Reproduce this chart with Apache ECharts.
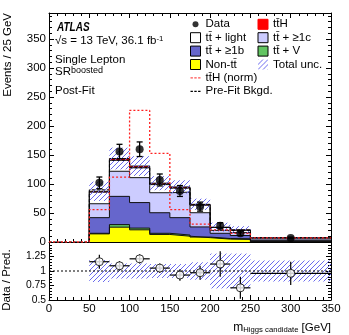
<!DOCTYPE html>
<html>
<head>
<meta charset="utf-8">
<script src="https://cdn.jsdelivr.net/npm/echarts@6/dist/echarts.min.js"></script>
<style>
html, body { margin: 0; padding: 0; background: #fff; }
#main { width: 349px; height: 335px; }
</style>
</head>
<body>
<div id="main"></div>
<script>
// bin edges in GeV (25 GeV bins, last one is 100 GeV wide)
var binLo = [50, 75, 100, 125, 150, 175, 200, 225, 250];
var binHi = [75, 100, 125, 150, 175, 200, 225, 250, 350];

// post-fit yields, events / 25 GeV, bottom of the stack first
var nonTt   = [14, 25.6, 21, 13, 10, 7.5, 5, 4.5, 0.5];
var ttV     = [1, 4.4, 3, 2, 2, 1, 1, 1, 0.3];
var tt1b    = [27, 48.7, 44, 35.5, 30, 17.5, 9, 5.7, 2];
var tt1c    = [24, 43.3, 43, 34.5, 44, 24.5, 5, 5, 2.5];
var ttLight = [20, 19, 17, 14, 7, 13, 5, 4.1, 1.8];
var ttH     = [1.5, 3, 3, 2.5, 2, 1.5, 0.6, 0.7, 0.3];

// relative total uncertainty of the prediction
var totUnc = [0.19, 0.13, 0.13, 0.12, 0.12, 0.15, 0.3, 0.3, 0.18];

// overlays
var ttHNorm = [56, 112, 227, 153, 56, 31, 21, 15, 7];
var preFit  = [90, 141, 128, 100, 93, 64, 25, 20, 7.3];

// data
var dataVal = [102, 156, 160, 107, 88, 61, 28, 15, 7.1];
var dataErr = [10.1, 12.5, 12.6, 10.3, 9.4, 7.8, 5.3, 3.9, 1.4];

// ratio panel
var ratioVal = [1.16, 1.09, 1.21, 1.05, 0.93, 0.97, 1.12, 0.71, 0.96];
var ratioErr = [0.12, 0.08, 0.08, 0.08, 0.1, 0.12, 0.22, 0.19, 0.2];

var fontFam = '"Liberation Sans", Arial, Helvetica, sans-serif';

var N_TTH = 'tt\u0304H', N_LIGHT = 'tt\u0304 + light', N_1C = 'tt\u0304 + \u22651c',
    N_1B = 'tt\u0304 + \u22651b', N_V = 'tt\u0304 + V', N_NONTT = 'Non-tt\u0304',
    N_UNC = 'Total unc.', N_NORM = 'tt\u0304H (norm)', N_PRE = 'Pre-Fit Bkgd.';

// hatch used for the uncertainty band
var hatch = (function () {
    var c = document.createElement('canvas');
    c.width = 5; c.height = 5;
    var g = c.getContext('2d');
    g.strokeStyle = '#6a6aee';
    g.lineWidth = 1;
    g.beginPath();
    g.moveTo(0, 5); g.lineTo(5, 0);
    g.moveTo(-1, 1); g.lineTo(1, -1);
    g.moveTo(4, 6); g.lineTo(6, 4);
    g.stroke();
    return { image: c, repeat: 'repeat' };
})();

// step outline of a histogram
function steps(vals, fromZero) {
    var pts = fromZero ? [[0, 0], [binLo[0], 0]] : [[binLo[0], 0]];
    for (var i = 0; i < vals.length; i++) {
        pts.push([binLo[i], vals[i]], [binHi[i], vals[i]]);
    }
    return pts;
}

var stackParts = [
    { name: N_NONTT, vals: nonTt, color: '#ffff00' },
    { name: N_V, vals: ttV, color: '#62c462' },
    { name: N_1B, vals: tt1b, color: '#6666cc' },
    { name: N_1C, vals: tt1c, color: '#ccccff' },
    { name: N_LIGHT, vals: ttLight, color: '#ffffff' },
    { name: N_TTH, vals: ttH, color: '#ff0000' }
];

var cum = binLo.map(function () { return 0; });
var levels = [];
stackParts.forEach(function (p) {
    cum = cum.map(function (c, i) { return c + p.vals[i]; });
    levels.push({ name: p.name, color: p.color, top: cum.slice() });
});
var total = cum;

var series = [];

// stack: draw the highest cumulative level first, lower ones cover it
levels.slice().reverse().forEach(function (l) {
    series.push({
        type: 'line', name: l.name, xAxisIndex: 0, yAxisIndex: 0,
        data: steps(l.top, false), symbol: 'none', silent: true, z: 2,
        emphasis: { disabled: true },
        color: l.color,
        lineStyle: { color: '#111', width: 1 },
        areaStyle: { color: l.color, opacity: 1 }
    });
});

function bandItem(params, api) {
    var p0 = api.coord([api.value(0), api.value(3)]);
    var p1 = api.coord([api.value(1), api.value(2)]);
    return {
        type: 'rect',
        shape: { x: p0[0], y: p0[1], width: p1[0] - p0[0], height: p1[1] - p0[1] },
        style: { fill: hatch }
    };
}

// uncertainty band on the stack
series.push({
    type: 'custom', name: N_UNC, xAxisIndex: 0, yAxisIndex: 0, z: 3, silent: true,
    itemStyle: { color: hatch },
    encode: { x: [0, 1], y: [2, 3] },
    renderItem: bandItem,
    data: binLo.map(function (lo, i) {
        return [lo, binHi[i], total[i] * (1 - totUnc[i]), total[i] * (1 + totUnc[i])];
    })
});

series.push({
    type: 'line', name: N_PRE, xAxisIndex: 0, yAxisIndex: 0, z: 4, silent: true,
    data: steps(preFit, true), symbol: 'none',
    color: '#000',
    lineStyle: { color: '#000', width: 1, type: [3, 2] }
});
series.push({
    type: 'line', name: N_NORM, xAxisIndex: 0, yAxisIndex: 0, z: 4, silent: true,
    data: steps(ttHNorm, true), symbol: 'none',
    color: '#ff2020',
    lineStyle: { color: '#ff2020', width: 1.3, type: [2, 2] }
});

// data error bars
series.push({
    type: 'custom', xAxisIndex: 0, yAxisIndex: 0, z: 5, silent: true,
    encode: { x: 0, y: 1 },
    renderItem: function (params, api) {
        var x = api.value(0), y = api.value(1), e = api.value(2);
        var t = api.coord([x, y + e]), b = api.coord([x, y - e]);
        var st = { stroke: '#000', lineWidth: 1.3 };
        return {
            type: 'group', children: [
                { type: 'line', shape: { x1: t[0], y1: t[1], x2: b[0], y2: b[1] }, style: st },
                { type: 'line', shape: { x1: t[0] - 3, y1: t[1], x2: t[0] + 3, y2: t[1] }, style: st },
                { type: 'line', shape: { x1: b[0] - 3, y1: b[1], x2: b[0] + 3, y2: b[1] }, style: st }
            ]
        };
    },
    data: dataVal.map(function (v, i) { return [(binLo[i] + binHi[i]) / 2, v, dataErr[i]]; })
});
series.push({
    type: 'scatter', name: 'Data', xAxisIndex: 0, yAxisIndex: 0, z: 6, silent: true,
    symbol: 'circle', symbolSize: 8,
    itemStyle: { color: '#000' },
    data: dataVal.map(function (v, i) { return [(binLo[i] + binHi[i]) / 2, v]; })
});

// ratio panel
series.push({
    type: 'custom', xAxisIndex: 2, yAxisIndex: 2, z: 3, silent: true,
    encode: { x: [0, 1], y: [2, 3] },
    renderItem: bandItem,
    data: binLo.map(function (lo, i) { return [lo, binHi[i], 1 - totUnc[i], 1 + totUnc[i]]; })
});
series.push({
    type: 'line', xAxisIndex: 2, yAxisIndex: 2, z: 4, silent: true, symbol: 'none',
    data: [[0, 1], [350, 1]],
    lineStyle: { color: '#000', width: 1, type: [2, 2] }
});
series.push({
    type: 'custom', xAxisIndex: 2, yAxisIndex: 2, z: 5, silent: true,
    encode: { x: [0, 1, 2], y: 3 },
    renderItem: function (params, api) {
        var lo = api.value(0), hi = api.value(1), x = api.value(2), y = api.value(3), e = api.value(4);
        var l = api.coord([lo, y]), r = api.coord([hi, y]);
        var t = api.coord([x, y + e]), b = api.coord([x, y - e]);
        var st = { stroke: '#000', lineWidth: 1.2 };
        return {
            type: 'group', children: [
                { type: 'line', shape: { x1: l[0], y1: l[1], x2: r[0], y2: r[1] }, style: st },
                { type: 'line', shape: { x1: t[0], y1: t[1], x2: b[0], y2: b[1] }, style: st }
            ]
        };
    },
    data: ratioVal.map(function (v, i) {
        return [binLo[i], binHi[i], (binLo[i] + binHi[i]) / 2, v, ratioErr[i]];
    })
});
series.push({
    type: 'scatter', xAxisIndex: 2, yAxisIndex: 2, z: 6, silent: true,
    symbol: 'circle', symbolSize: 8,
    itemStyle: { color: '#fff', borderColor: '#000', borderWidth: 1 },
    data: ratioVal.map(function (v, i) { return [(binLo[i] + binHi[i]) / 2, v]; })
});

function axis(extra) {
    var a = {
        type: 'value',
        axisLine: { show: true, onZero: false, lineStyle: { color: '#000', width: 1 } },
        axisTick: { show: true, inside: true, length: 5, lineStyle: { color: '#000' } },
        minorTick: { show: true, splitNumber: 5, length: 3, lineStyle: { color: '#000' } },
        splitLine: { show: false },
        minorSplitLine: { show: false },
        axisLabel: { show: false }
    };
    for (var k in extra) a[k] = extra[k];
    return a;
}

var lblStyle = { show: true, color: '#000', fontFamily: fontFam, fontSize: 11.5 };

var legendText = { fontSize: 11.5, lineHeight: 13.4, color: '#000', fontFamily: fontFam };
function box(c, border) {
    return { color: c, borderColor: border || '#000', borderWidth: 1 };
}
var dotIcon = 'path://M0,0M10,10M5,2A3,3,0,1,1,5,8A3,3,0,1,1,5,2Z';
var dashIcon = 'path://M0,0M10,10M0,4.4h2.4v1.2h-2.4zM3.8,4.4h2.4v1.2h-2.4zM7.6,4.4h2.4v1.2h-2.4z';

var option = {
    animation: false,
    backgroundColor: '#fff',
    grid: [
        { left: 49, right: 18, top: 13, height: 229, outerBoundsMode: 'none' },
        { left: 49, right: 18, top: 242, height: 58, outerBoundsMode: 'none' }
    ],
    xAxis: [
        axis({ gridIndex: 0, position: 'bottom', min: 0, max: 350, interval: 50 }),
        axis({ gridIndex: 0, position: 'top', min: 0, max: 350, interval: 50 }),
        axis({ gridIndex: 1, position: 'bottom', min: 0, max: 350, interval: 50,
               axisLabel: Object.assign({ margin: 3 }, lblStyle) })
    ],
    yAxis: [
        axis({ gridIndex: 0, position: 'left', min: 0, max: 395, interval: 50,
               axisLabel: Object.assign({ margin: 3, showMaxLabel: false }, lblStyle) }),
        axis({ gridIndex: 0, position: 'right', min: 0, max: 395, interval: 50 }),
        axis({ gridIndex: 1, position: 'left', min: 0.5, max: 1.5, interval: 0.25,
               axisLabel: Object.assign({}, lblStyle, { margin: 3, fontSize: 10.3, showMaxLabel: false }) }),
        axis({ gridIndex: 1, position: 'right', min: 0.5, max: 1.5, interval: 0.25 })
    ],
    legend: [
        {
            orient: 'vertical', left: 190, top: 17.6, padding: 0, itemGap: 0,
            itemWidth: 10, itemHeight: 10, selectedMode: false, textStyle: legendText,
            data: [
                { name: 'Data', icon: dotIcon, itemStyle: { color: '#000', borderWidth: 0 } },
                { name: N_LIGHT, icon: 'rect', itemStyle: box('#ffffff') },
                { name: N_1B, icon: 'rect', itemStyle: box('#6666cc') },
                { name: N_NONTT, icon: 'rect', itemStyle: box('#ffff00') },
                { name: N_NORM, icon: dashIcon, itemStyle: { color: '#ff5050', borderWidth: 0 } },
                { name: N_PRE, icon: dashIcon, itemStyle: { color: '#000', borderWidth: 0 } }
            ]
        },
        {
            orient: 'vertical', left: 257.5, top: 17.6, padding: 0, itemGap: 0,
            itemWidth: 10, itemHeight: 10, selectedMode: false, textStyle: legendText,
            data: [
                { name: N_TTH, icon: 'rect', itemStyle: box('#ff0000', '#ff0000') },
                { name: N_1C, icon: 'rect', itemStyle: box('#ccccff') },
                { name: N_V, icon: 'rect', itemStyle: box('#62c462') },
                { name: N_UNC, icon: 'rect', itemStyle: { color: hatch, borderWidth: 0 } }
            ]
        }
    ],
    graphic: [
        { type: 'text', x: 57, y: 27.5, scaleX: 0.8,
          style: { text: 'ATLAS', font: 'italic bold 12.5px ' + fontFam, fill: '#000', verticalAlign: 'middle' } },
        { type: 'text', x: 55, y: 40.5,
          style: { text: '{a|\u221As = 13 TeV, 36.1 fb}{b|-1}', fill: '#000', verticalAlign: 'middle',
                   rich: { a: { fontSize: 11.5, fontFamily: fontFam, fill: '#000' },
                           b: { fontSize: 7.8, fontFamily: fontFam, fill: '#000', verticalAlign: 'top' } } } },
        { type: 'text', x: 55, y: 59.5,
          style: { text: 'Single Lepton', font: '11.5px ' + fontFam, fill: '#000', verticalAlign: 'middle' } },
        { type: 'text', x: 55, y: 72,
          style: { text: '{a|SR}{b|boosted}', fill: '#000', verticalAlign: 'middle',
                   rich: { a: { fontSize: 11.5, fontFamily: fontFam, fill: '#000', verticalAlign: 'bottom' },
                           b: { fontSize: 9, fontFamily: fontFam, fill: '#000', verticalAlign: 'top' } } } },
        { type: 'text', x: 55, y: 90.5,
          style: { text: 'Post-Fit', font: '11.5px ' + fontFam, fill: '#000', verticalAlign: 'middle' } },
        { type: 'text', x: 8, y: 13, rotation: Math.PI / 2,
          style: { text: 'Events / 25 GeV', font: '11.5px ' + fontFam, fill: '#000', align: 'right', verticalAlign: 'middle' } },
        { type: 'text', x: 7, y: 280, rotation: Math.PI / 2,
          style: { text: 'Data / Pred.', font: '11.5px ' + fontFam, fill: '#000', align: 'center', verticalAlign: 'middle' } },
        { type: 'text', x: 331, y: 327.5,
          style: { text: '{m|m}{s|Higgs candidate}{g| [GeV]}', fill: '#000', align: 'right', verticalAlign: 'middle',
                   rich: { m: { fontSize: 12, fontFamily: fontFam, fill: '#000', verticalAlign: 'top' },
                           s: { fontSize: 7.7, fontFamily: fontFam, fill: '#000', verticalAlign: 'bottom' },
                           g: { fontSize: 11.5, fontFamily: fontFam, fill: '#000', verticalAlign: 'top' } } } }
    ],
    series: series
};

var myChart = echarts.init(document.getElementById('main'));
myChart.setOption(option);
</script>
</body>
</html>
